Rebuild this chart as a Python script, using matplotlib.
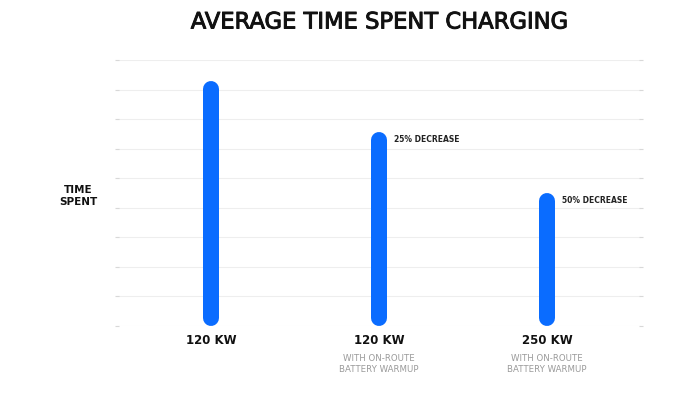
import numpy as np
import matplotlib.pyplot as plt
import matplotlib.patheffects as pe

# data
categories = ["120 KW", "120 KW", "250 KW"]
subtitles = ["", "WITH ON-ROUTE\nBATTERY WARMUP", "WITH ON-ROUTE\nBATTERY WARMUP"]
time_spent = [8.28, 6.55, 4.49]
notes = ["", "25% DECREASE", "50% DECREASE"]

blue = "#0a6cff"
dpi = 100
fig = plt.figure(figsize=(6.78, 3.93), dpi=dpi)
fig.patch.set_facecolor("white")
ax = fig.add_axes([117 / 678, 1 - 326 / 393, 524 / 678, 266 / 393])

x = np.arange(len(categories))
bar_px = 16
lw = bar_px * 72 / dpi
cap = (bar_px / 2) / 29.6  # half bar width in y units (rounded cap)

for xi, v in zip(x, time_spent):
    ax.plot([xi, xi], [cap, v - cap], color=blue, lw=lw,
            solid_capstyle="round", clip_on=False, zorder=3)

for xi, v, n in zip(x, time_spent, notes):
    if n:
        ax.annotate(n, (xi, v), xytext=(11, -5), textcoords="offset points",
                    fontsize=5.5, fontweight="bold", color="#222222",
                    va="center", ha="left")

ax.set_xlim(-0.56, 2.56)
ax.set_ylim(0, 9)
ax.set_yticks(np.arange(0, 10))
ax.set_yticklabels([])
ax.grid(axis="y", color="#eeeeee", lw=0.8)
ax.set_axisbelow(True)
for s in ax.spines.values():
    s.set_visible(False)
ax.tick_params(axis="y", left=True, right=True, length=3, color="#d8d8d8",
               direction="inout", width=0.8)
ax.set_xticks(x)
ax.set_xticklabels([])
ax.tick_params(axis="x", length=0)

for xi, c, s in zip(x, categories, subtitles):
    ax.text(xi, -0.5, c, ha="center", va="center", fontsize=8.5,
            fontweight="semibold", color="#111111")
    if s:
        ax.text(xi, -0.95, s, ha="center", va="top", fontsize=6.2,
                color="#9a9a9a", linespacing=1.25)

fig.text(78 / 678, 1 - 196 / 393, "TIME\nSPENT", ha="center", va="center",
         fontsize=7.5, fontweight="semibold", color="#111111", linespacing=1.3)

fig.text(380 / 678, 1 - 22 / 393, "AVERAGE TIME SPENT CHARGING", ha="center",
         va="center", fontsize=16.3, fontweight="normal", color="#111111",
         path_effects=[pe.withStroke(linewidth=0.7, foreground="#111111")])

fig.savefig("out.png", dpi=dpi, facecolor="white")
